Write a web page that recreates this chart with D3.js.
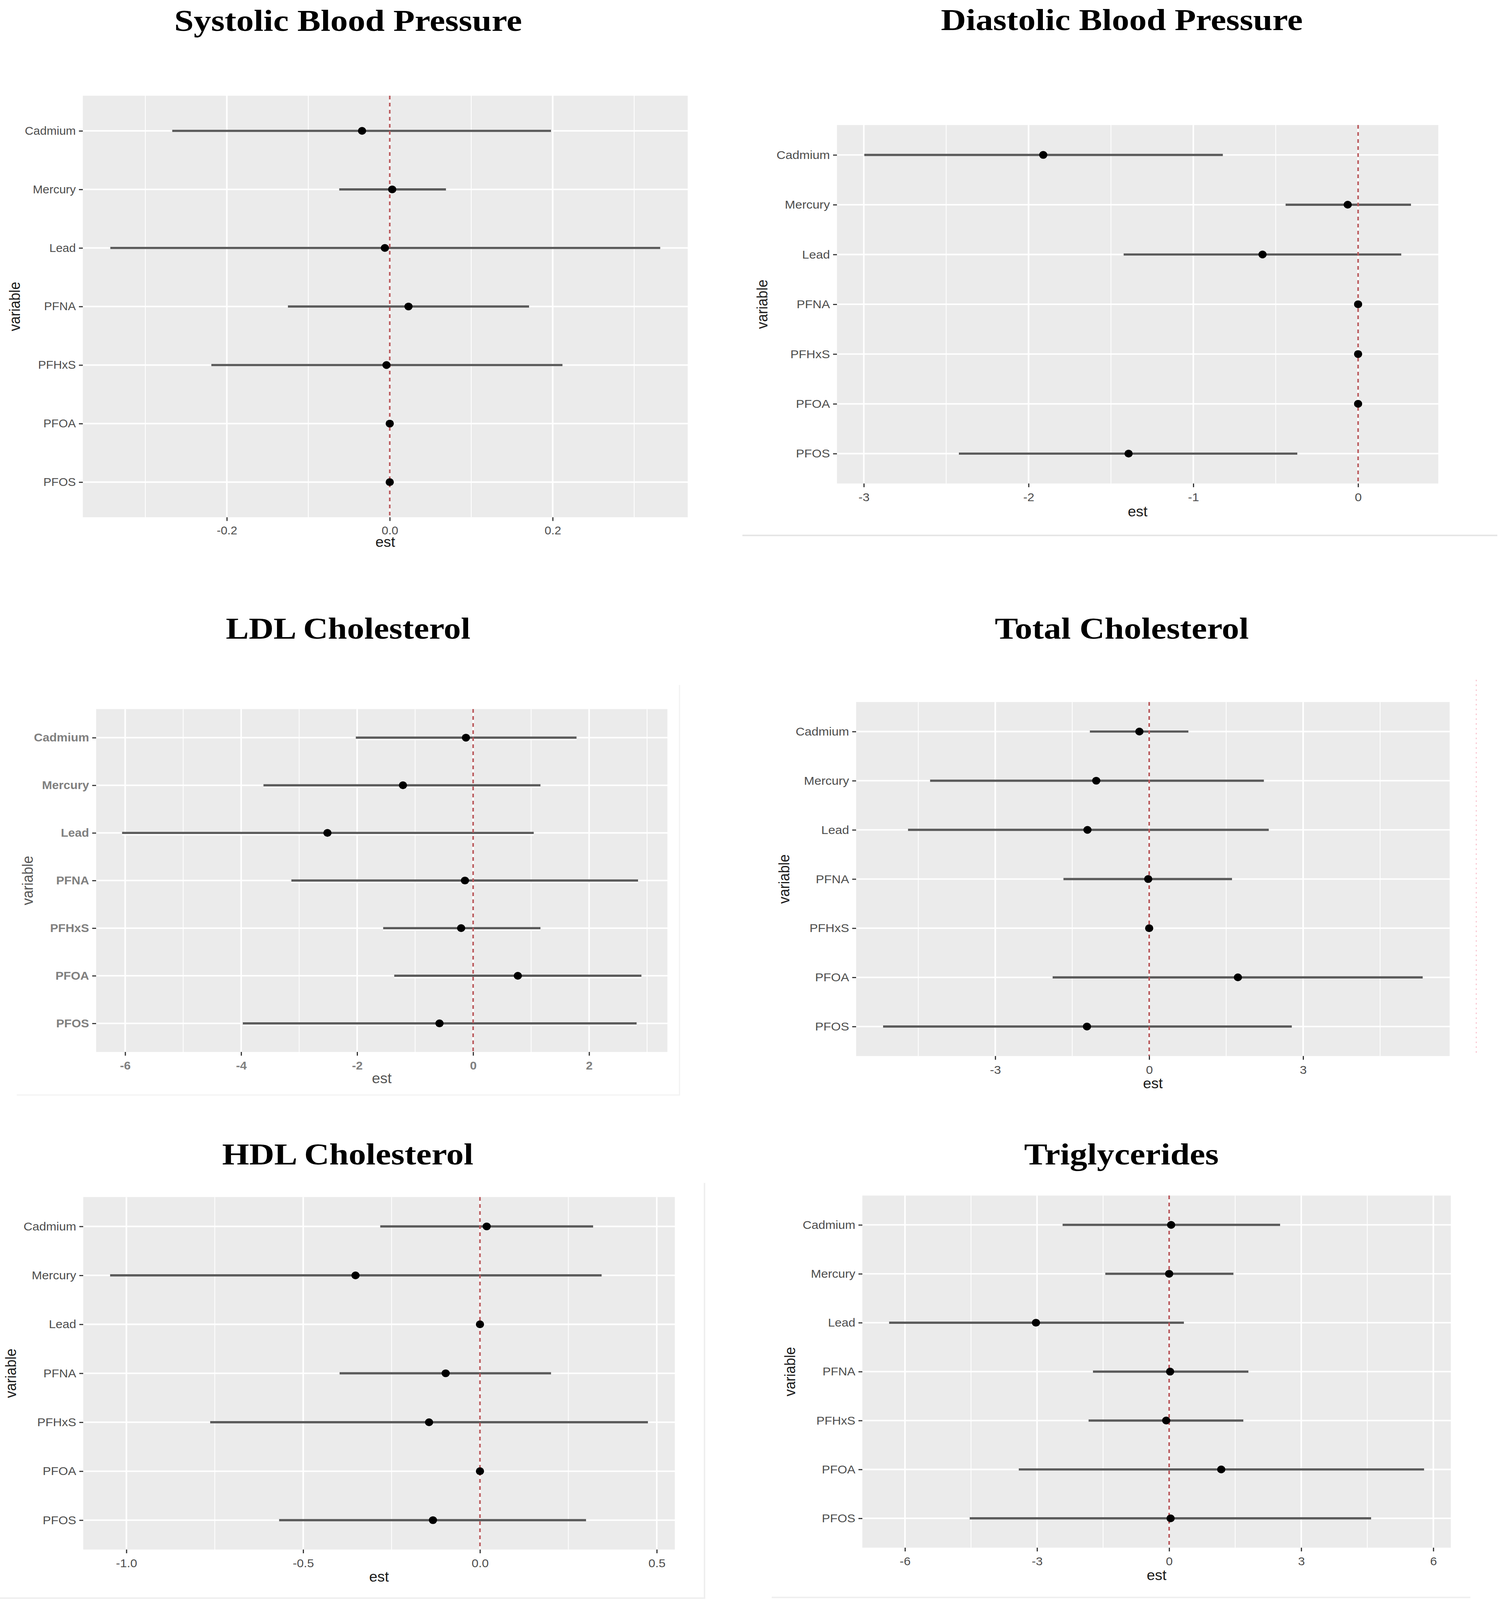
<!DOCTYPE html>
<html>
<head>
<meta charset="utf-8">
<script src="https://cdnjs.cloudflare.com/ajax/libs/d3/7.8.5/d3.min.js"></script>
<style>
  html, body { margin: 0; padding: 0; width: 100%; height: 100%; overflow: hidden; background: #fff; }
  svg { display: block; width: 100vw; height: 100vh; }
</style>
</head>
<body>
<svg id="fig"></svg>
<script>
var variables = ["Cadmium", "Mercury", "Lead", "PFNA", "PFHxS", "PFOA", "PFOS"];

// systolic blood pressure
var sbpEst  = [-0.034, 0.003, -0.006, 0.023, -0.004, 0.000, 0.000];
var sbpLow  = [-0.267, -0.062, -0.343, -0.125, -0.219, 0.000, 0.000];
var sbpHigh = [0.198, 0.069, 0.332, 0.171, 0.212, 0.000, 0.000];
var sbpTicks = [-0.2, 0, 0.2];
var sbpTickLabels = ["-0.2", "0.0", "0.2"];

// diastolic blood pressure
var dbpEst  = [-1.911, -0.063, -0.580, 0.000, 0.000, 0.000, -1.393];
var dbpLow  = [-2.997, -0.440, -1.423, 0.000, 0.000, 0.000, -2.423];
var dbpHigh = [-0.821, 0.321, 0.262, 0.000, 0.000, 0.000, -0.369];
var dbpTicks = [-3, -2, -1, 0];
var dbpTickLabels = ["-3", "-2", "-1", "0"];

// LDL cholesterol
var ldlEst  = [-0.124, -1.210, -2.512, -0.141, -0.207, 0.771, -0.580];
var ldlLow  = [-2.023, -3.615, -6.053, -3.134, -1.551, -1.360, -3.972];
var ldlHigh = [1.783, 1.161, 1.045, 2.844, 1.161, 2.902, 2.819];
var ldlTicks = [-6, -4, -2, 0, 2];
var ldlTickLabels = ["-6", "-4", "-2", "0", "2"];

// total cholesterol
var tcEst  = [-0.191, -1.032, -1.203, -0.019, 0.000, 1.729, -1.213];
var tcLow  = [-1.156, -4.270, -4.700, -1.671, 0.000, -1.882, -5.186];
var tcHigh = [0.764, 2.235, 2.330, 1.614, 0.000, 5.330, 2.779];
var tcTicks = [-3, 0, 3];
var tcTickLabels = ["-3", "0", "3"];

// HDL cholesterol
var hdlEst  = [0.019, -0.352, 0.000, -0.097, -0.144, 0.000, -0.133];
var hdlLow  = [-0.282, -1.046, 0.000, -0.397, -0.763, 0.000, -0.568];
var hdlHigh = [0.320, 0.344, 0.000, 0.201, 0.475, 0.000, 0.300];
var hdlTicks = [-1, -0.5, 0, 0.5];
var hdlTickLabels = ["-1.0", "-0.5", "0.0", "0.5"];

// triglycerides
var tgEst  = [0.045, 0.000, -3.025, 0.022, -0.067, 1.183, 0.033];
var tgLow  = [-2.420, -1.450, -6.360, -1.730, -1.830, -3.415, -4.530];
var tgHigh = [2.520, 1.460, 0.335, 1.800, 1.685, 5.790, 4.587];
var tgTicks = [-6, -3, 0, 3, 6];
var tgTickLabels = ["-6", "-3", "0", "3", "6"];

var W = 3867, H = 4312;
// drawn in a fixed 3867x4312 frame, stretched to whatever the window really is
var svg = d3.select('#fig')
  .attr('viewBox', '0 0 ' + W + ' ' + H)
  .attr('preserveAspectRatio', 'none');

// where each ggplot screenshot sits on the page
var panels = [
  { title: "Systolic Blood Pressure", est: sbpEst, low: sbpLow, high: sbpHigh, ticks: sbpTicks, labels: sbpTickLabels,
    box: [212, 258, 1760, 1394], tx: 891, ty: 83, tw: 890, varX: 41, fs: 30.5, estDy: 80 },
  { title: "Diastolic Blood Pressure", est: dbpEst, low: dbpLow, high: dbpHigh, ticks: dbpTicks, labels: dbpTickLabels,
    box: [2142, 337, 3681, 1303], tx: 2871, ty: 81, tw: 926, varX: 1954, fs: 32, estDy: 89 },
  { title: "LDL Cholesterol", est: ldlEst, low: ldlLow, high: ldlHigh, ticks: ldlTicks, labels: ldlTickLabels,
    box: [246, 1911, 1708, 2835], tx: 891, ty: 1721, tw: 626, varX: 74, fs: 31, estDy: 84, faded: true },
  { title: "Total Cholesterol", est: tcEst, low: tcLow, high: tcHigh, ticks: tcTicks, labels: tcTickLabels,
    box: [2191, 1892, 3710, 2846], tx: 2871, ty: 1721, tw: 650, varX: 2010, fs: 32, estDy: 87 },
  { title: "HDL Cholesterol", est: hdlEst, low: hdlLow, high: hdlHigh, ticks: hdlTicks, labels: hdlTickLabels,
    box: [213, 3226, 1727, 4176], tx: 890, ty: 3138, tw: 643, varX: 31, fs: 31.5, estDy: 87 },
  { title: "Triglycerides", est: tgEst, low: tgLow, high: tgHigh, ticks: tgTicks, labels: tgTickLabels,
    box: [2207, 3222, 3713, 4171], tx: 2870, ty: 3138, tw: 498, varX: 2025, fs: 31.5, estDy: 87 }
];

// faint leftovers of the pasted screenshots
var frame = svg.append('g').attr('class', 'frames');
frame.append('line').attr('x1', 1900).attr('x2', 3832).attr('y1', 1443).attr('y2', 1443)
  .style('stroke', '#e4e4e4').style('stroke-width', 4);
frame.append('path').attr('d', 'M43,2951H1739V1846')
  .style('fill', 'none').style('stroke', '#f2f2f2').style('stroke-width', 3);
frame.append('path').attr('d', 'M0,4307H1803V3188')
  .style('fill', 'none').style('stroke', '#efefef').style('stroke-width', 4);
frame.append('line').attr('x1', 1975).attr('x2', 3763).attr('y1', 4305).attr('y2', 4305)
  .style('stroke', '#efefef').style('stroke-width', 4);
frame.append('line').attr('x1', 3778).attr('x2', 3778).attr('y1', 1832).attr('y2', 2845)
  .style('stroke', '#f6b3c0').style('stroke-width', 2).style('stroke-dasharray', '4,9');

panels.forEach(function(p) {
  var x0 = p.box[0], y0 = p.box[1], x1 = p.box[2], y1 = p.box[3];
  var ext = d3.extent(p.low.concat(p.high, p.est));
  var pad = (ext[1] - ext[0]) * 0.05;

  var x = d3.scaleLinear().domain([ext[0] - pad, ext[1] + pad]).range([x0, x1]);
  var y = d3.scalePoint().domain(variables).range([y0, y1]).padding(0.6);

  // minor breaks half way between the major ones
  var step = p.ticks[1] - p.ticks[0];
  var minor = [];
  for (var v = p.ticks[0] - step / 2; v <= x.domain()[1]; v += step) {
    if (v >= x.domain()[0]) minor.push(v);
  }

  var g = svg.append('g');
  var txtColor = p.faded ? '#808080' : '#4d4d4d';

  g.append('rect')
    .attr('x', x0).attr('y', y0)
    .attr('width', x1 - x0).attr('height', y1 - y0)
    .style('fill', '#ebebeb');

  g.selectAll('.minor').data(minor).enter().append('line')
    .attr('x1', function(d) { return x(d); })
    .attr('x2', function(d) { return x(d); })
    .attr('y1', y0).attr('y2', y1)
    .style('stroke', '#fff').style('stroke-width', 2);

  g.selectAll('.vmajor').data(p.ticks).enter().append('line')
    .attr('x1', function(d) { return x(d); })
    .attr('x2', function(d) { return x(d); })
    .attr('y1', y0).attr('y2', y1)
    .style('stroke', '#fff').style('stroke-width', 4);

  g.selectAll('.hmajor').data(variables).enter().append('line')
    .attr('x1', x0).attr('x2', x1)
    .attr('y1', function(d) { return y(d); })
    .attr('y2', function(d) { return y(d); })
    .style('stroke', '#fff').style('stroke-width', 4);

  var rows = variables.map(function(name, i) {
    return { name: name, est: p.est[i], low: p.low[i], high: p.high[i] };
  });

  if (p.faded) {
    // the blurry LDL screenshot has a white halo under each bar
    g.selectAll('.halo').data(rows).enter().append('line')
      .attr('x1', function(d) { return x(d.low); })
      .attr('x2', function(d) { return x(d.high); })
      .attr('y1', function(d) { return y(d.name) + 5; })
      .attr('y2', function(d) { return y(d.name) + 5; })
      .style('stroke', '#fff').style('stroke-width', 4);
  }

  g.selectAll('.bar').data(rows).enter().append('line')
    .attr('x1', function(d) { return x(d.low); })
    .attr('x2', function(d) { return x(d.high); })
    .attr('y1', function(d) { return y(d.name); })
    .attr('y2', function(d) { return y(d.name); })
    .style('stroke', '#5a5a5a').style('stroke-width', 6);

  g.append('line')
    .attr('x1', x(0)).attr('x2', x(0))
    .attr('y1', y0).attr('y2', y1)
    .style('stroke', '#b9585b').style('stroke-width', 4)
    .style('stroke-dasharray', '10,9');

  g.selectAll('.dot').data(rows).enter().append('circle')
    .attr('cx', function(d) { return x(d.est); })
    .attr('cy', function(d) { return y(d.name); })
    .attr('r', 10.5)
    .style('fill', '#000');

  // axes
  var xAxis = g.append('g')
    .attr('transform', 'translate(0,' + y1 + ')')
    .call(d3.axisBottom(x).tickValues(p.ticks)
      .tickFormat(function(d, i) { return p.labels[i]; })
      .tickSize(10).tickPadding(15));

  var yAxis = g.append('g')
    .attr('transform', 'translate(' + x0 + ',0)')
    .call(d3.axisLeft(y).tickSize(10).tickPadding(8));

  [xAxis, yAxis].forEach(function(ax) {
    ax.select('.domain').remove();
    ax.selectAll('.tick line').style('stroke', '#333').style('stroke-width', 3);
    ax.selectAll('.tick text')
      .style('font-family', '"Liberation Sans", Arial, sans-serif')
      .style('font-size', p.fs + 'px')
      .style('font-weight', p.faded ? 'bold' : 'normal')
      .style('fill', txtColor);
  });

  g.append('text')
    .attr('x', (x0 + x1) / 2).attr('y', y1 + p.estDy)
    .attr('text-anchor', 'middle')
    .style('font-family', '"Liberation Sans", Arial, sans-serif')
    .style('font-size', '38px')
    .style('fill', p.faded ? '#555' : '#1a1a1a')
    .text('est');

  g.append('text')
    .attr('transform', 'translate(' + (p.varX + 10) + ',' + ((y0 + y1) / 2) + ') rotate(-90)')
    .attr('text-anchor', 'middle')
    .style('font-family', '"Liberation Sans", Arial, sans-serif')
    .style('font-size', '38px')
    .style('fill', p.faded ? '#555' : '#1a1a1a')
    .text('variable');

  svg.append('text')
    .attr('x', p.tx).attr('y', p.ty)
    .attr('text-anchor', 'middle')
    .attr('textLength', p.tw)
    .attr('lengthAdjust', 'spacingAndGlyphs')
    .style('font-family', '"Liberation Serif", "Times New Roman", serif')
    .style('font-weight', 'bold')
    .style('font-size', '83px')
    .style('fill', '#000')
    .text(p.title);
});
</script>
</body>
</html>
